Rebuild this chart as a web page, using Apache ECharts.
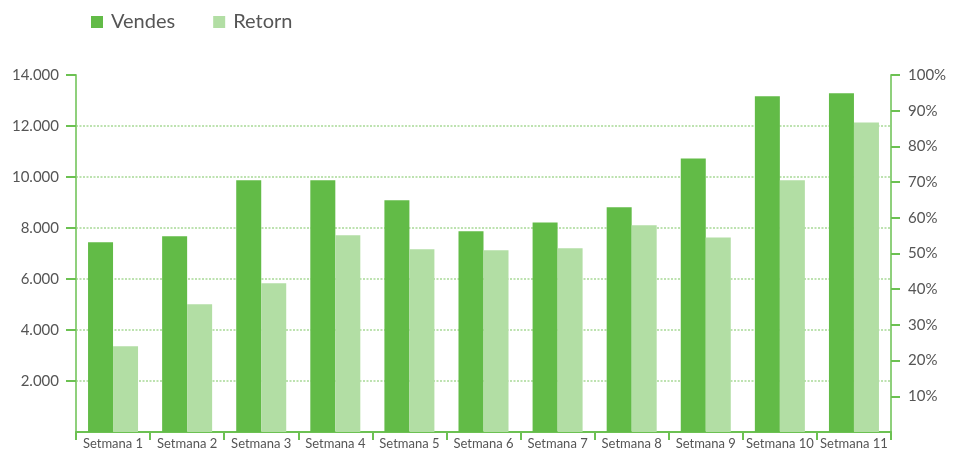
<!DOCTYPE html>
<html>
<head>
<meta charset="utf-8">
<script src="https://cdn.jsdelivr.net/npm/echarts@6/dist/echarts.min.js"></script>
<style>
  html, body { margin: 0; padding: 0; background: #fff; }
  #chart { width: 956px; height: 453px; }
</style>
</head>
<body>
<div id="chart"></div>
<script>
// dades
const weeks = ['Setmana 1', 'Setmana 2', 'Setmana 3', 'Setmana 4', 'Setmana 5', 'Setmana 6',
  'Setmana 7', 'Setmana 8', 'Setmana 9', 'Setmana 10', 'Setmana 11']
const vendes = [7440, 7680, 9870, 9870, 9090, 7870, 8220, 8810, 10730, 13170, 13280]
const retorn = [24.0, 35.8, 41.7, 55.1, 51.2, 50.9, 51.5, 57.9, 54.5, 70.5, 86.7]

const dark = '#62bb47'
const light = '#b2dea4'
const axisGreen = '#8fd07c'
const tickGreen = '#6cc152'
const textGray = '#555555'
const font = 'Lato'

const chart = echarts.init(document.getElementById('chart'))

const option = {
  animation: false,
  textStyle: { fontFamily: font },
  legend: {
    left: 86,
    top: 7,
    itemWidth: 12,
    itemHeight: 12,
    itemGap: 38,
    icon: 'rect',
    textStyle: { fontSize: 20, color: textGray, fontFamily: font, padding: [0, 0, 0, 3] },
    data: ['Vendes', 'Retorn']
  },
  grid: {
    left: 76,
    right: 65,
    top: 75,
    bottom: 21,
    containLabel: false,
    outerBoundsMode: 'none'
  },
  xAxis: {
    type: 'category',
    data: weeks,
    axisLine: { lineStyle: { color: tickGreen, width: 2 } },
    axisTick: { show: true, length: 8, interval: 0, lineStyle: { color: tickGreen, width: 2 } },
    axisLabel: { interval: 0, margin: 5, fontSize: 13, color: textGray, fontFamily: font }
  },
  yAxis: [
    {
      type: 'value',
      min: 0,
      max: 14000,
      interval: 2000,
      axisLine: { show: true, lineStyle: { color: axisGreen, width: 2 } },
      axisTick: { show: true, length: 10, lineStyle: { color: tickGreen, width: 2 } },
      axisLabel: {
        showMinLabel: false,
        margin: 17,
        fontSize: 15,
        color: textGray,
        fontFamily: font,
        formatter: v => v.toLocaleString('de-DE')
      },
      splitLine: {
        show: true,
        showMinLine: false,
        showMaxLine: false,
        lineStyle: { color: '#a8d996', width: 1.5, type: [2, 1.5] }
      }
    },
    {
      type: 'value',
      min: 0,
      max: 100,
      interval: 10,
      position: 'right',
      axisLine: { show: true, lineStyle: { color: axisGreen, width: 2 } },
      axisTick: { show: true, length: 9, lineStyle: { color: tickGreen, width: 2 } },
      axisLabel: {
        showMinLabel: false,
        margin: 17,
        fontSize: 15,
        color: textGray,
        fontFamily: font,
        formatter: '{value}%'
      },
      splitLine: { show: false }
    }
  ],
  series: [
    {
      name: 'Vendes',
      type: 'bar',
      yAxisIndex: 0,
      data: vendes,
      barWidth: 25,
      barGap: '0%',
      itemStyle: { color: dark }
    },
    {
      name: 'Retorn',
      type: 'bar',
      yAxisIndex: 1,
      data: retorn,
      barWidth: 25,
      barGap: '0%',
      itemStyle: { color: light }
    }
  ]
}

chart.setOption(option)
</script>
</body>
</html>
